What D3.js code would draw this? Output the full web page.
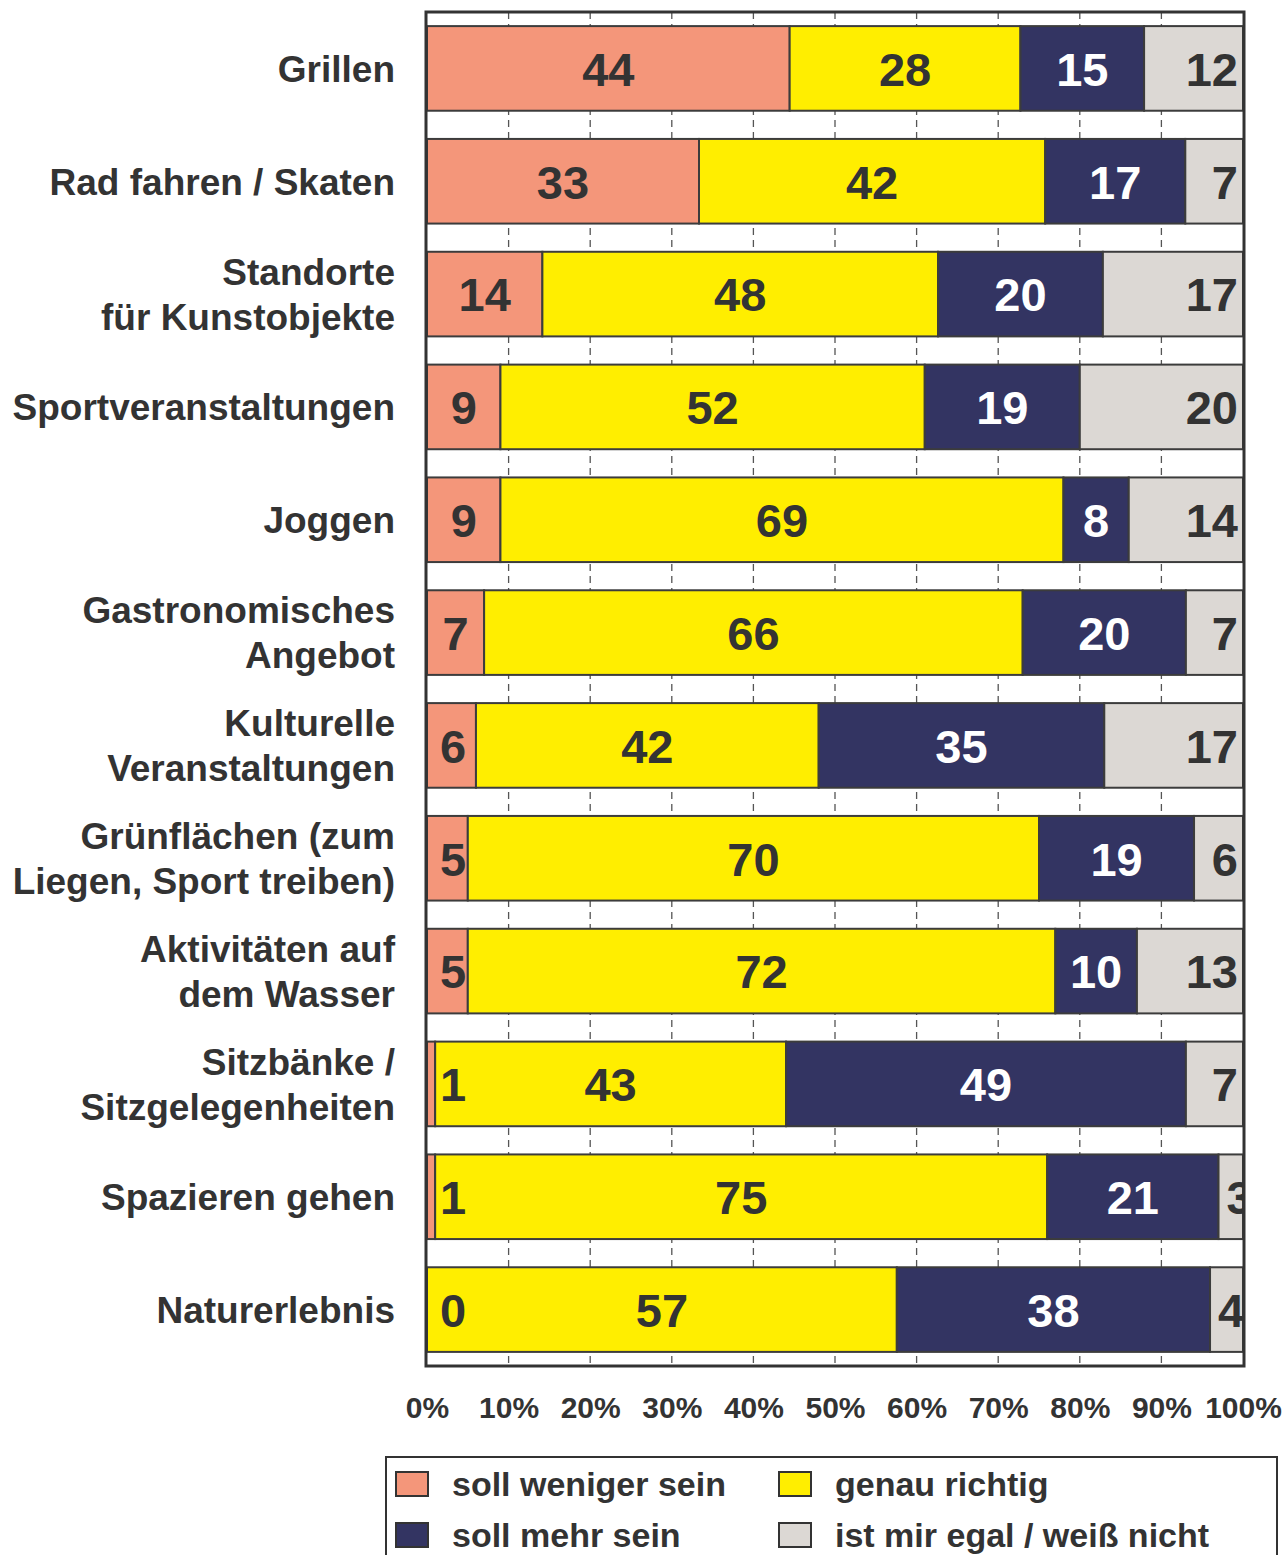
<!doctype html>
<html>
  <head>
    <meta charset="utf-8"/>
    <title>Freizeitangebote</title>
    <style>
      body, html {
        margin: 0;
        padding: 0;
        background: white;
        font-family: "Liberation Sans", Arial, sans-serif;
      }
      svg text {
        font-weight: bold;
        fill: #333333;
      }
    </style>
    <script src="https://d3js.org/d3.v7.min.js"></script>
  </head>
  <body>
    <svg width="1287" height="1555"></svg>
    <script>
      var categories = [
        "Grillen",
        "Rad fahren / Skaten",
        "Standorte\nfür Kunstobjekte",
        "Sportveranstaltungen",
        "Joggen",
        "Gastronomisches\nAngebot",
        "Kulturelle\nVeranstaltungen",
        "Grünflächen (zum\nLiegen, Sport treiben)",
        "Aktivitäten auf\ndem Wasser",
        "Sitzbänke /\nSitzgelegenheiten",
        "Spazieren gehen",
        "Naturerlebnis"
      ];
      var weniger = [44, 33, 14, 9, 9, 7, 6, 5, 5, 1, 1, 0];
      var richtig = [28, 42, 48, 52, 69, 66, 42, 70, 72, 43, 75, 57];
      var mehr    = [15, 17, 20, 19, 8, 20, 35, 19, 10, 49, 21, 38];
      var egal    = [12, 7, 17, 20, 14, 7, 17, 6, 13, 7, 3, 4];

      var seriesKeys = ["weniger", "richtig", "mehr", "egal"];
      var seriesNames = ["soll weniger sein", "genau richtig", "soll mehr sein", "ist mir egal / weiß nicht"];
      var colors = ["#f4967a", "#ffee00", "#333462", "#dcd8d4"];
      var labelColors = ["#333333", "#333333", "#ffffff", "#333333"];
      var ticks = [0, 0.1, 0.2, 0.3, 0.4, 0.5, 0.6, 0.7, 0.8, 0.9, 1];

      var rows = categories.map(function(c, i) {
        return {cat: c, weniger: weniger[i], richtig: richtig[i], mehr: mehr[i], egal: egal[i]};
      });

      var svg = d3.select("svg");
      var plotLeft = 427, plotRight = 1243, plotTop = 12, plotBottom = 1366;

      var x = d3.scaleLinear().domain([0, 1]).range([plotLeft, plotRight]);
      var y = d3.scaleBand().domain(categories).range([plotTop, plotBottom])
        .paddingInner(0.25).paddingOuter(0.125);

      var stack = d3.stack().keys(seriesKeys).offset(d3.stackOffsetExpand);
      var stacked = stack(rows);

      // dashed gridlines
      svg.append("g").selectAll("line")
        .data(ticks.slice(1, -1)).enter().append("line")
        .attr("x1", function(d) { return x(d); })
        .attr("x2", function(d) { return x(d); })
        .attr("y1", plotTop).attr("y2", plotBottom)
        .attr("stroke", "#555")
        .attr("stroke-width", 1.3)
        .attr("stroke-dasharray", "7,5");

      var layer = svg.append("g").selectAll("g")
        .data(stacked).enter().append("g")
        .attr("fill", function(d, i) { return colors[i]; });

      layer.selectAll("rect")
        .data(function(d) { return d; }).enter().append("rect")
        .attr("x", function(d) { return x(d[0]); })
        .attr("width", function(d) { return x(d[1]) - x(d[0]); })
        .attr("y", function(d) { return y(d.data.cat); })
        .attr("height", y.bandwidth())
        .attr("stroke", "#3c3c3c")
        .attr("stroke-width", 2);

      // clip for value labels so nothing runs past the frame
      svg.append("clipPath").attr("id", "plotClip")
        .append("rect")
        .attr("x", plotLeft).attr("y", plotTop)
        .attr("width", plotRight - plotLeft).attr("height", plotBottom - plotTop);

      // value labels
      var labels = svg.append("g").attr("clip-path", "url(#plotClip)");
      stacked.forEach(function(s, si) {
        labels.append("g").selectAll("text")
          .data(s).enter().append("text")
          .attr("x", function(d) {
            var mid = (x(d[0]) + x(d[1])) / 2;
            if (si === 0) return Math.max(mid, plotLeft + 26);
            if (si === 3) return Math.max(plotRight - 5, x(d[0]) + 34);
            return mid;
          })
          .attr("y", function(d) { return y(d.data.cat) + y.bandwidth() / 2; })
          .attr("dy", "0.37em")
          .attr("text-anchor", si === 3 ? "end" : "middle")
          .style("font-size", "47px")
          .style("fill", labelColors[si])
          .text(function(d) { return d.data[s.key]; });
      });

      // frame
      svg.append("rect")
        .attr("x", plotLeft - 1).attr("y", plotTop)
        .attr("width", plotRight - plotLeft + 2).attr("height", plotBottom - plotTop)
        .attr("fill", "none")
        .attr("stroke", "#333")
        .attr("stroke-width", 3);

      // category labels
      var catLabel = svg.append("g").selectAll("text")
        .data(categories).enter().append("text")
        .attr("text-anchor", "end")
        .style("font-size", "37px")
        .attr("y", function(d) { return y(d) + y.bandwidth() / 2; });

      catLabel.each(function(d) {
        var lines = d.split("\n");
        var t = d3.select(this);
        lines.forEach(function(l, i) {
          t.append("tspan")
            .attr("x", 395)
            .attr("dy", i === 0 ? (0.36 * 37 - (lines.length - 1) * 22.5) + "px" : "45px")
            .text(l);
        });
      });

      // x axis
      var axis = svg.append("g")
        .attr("transform", "translate(0," + plotBottom + ")")
        .call(d3.axisBottom(x).tickValues(ticks).tickFormat(d3.format(".0%")).tickSize(0).tickPadding(31));
      axis.select(".domain").remove();
      axis.selectAll("text")
        .style("font-size", "30px")
        .style("font-family", "Liberation Sans, Arial, sans-serif")
        .attr("fill", "#333");

      // legend
      var legend = svg.append("g");
      legend.append("rect")
        .attr("x", 386).attr("y", 1457)
        .attr("width", 891).attr("height", 120)
        .attr("fill", "white")
        .attr("stroke", "#333")
        .attr("stroke-width", 2);

      var legendPos = [[396, 1472], [779, 1472], [396, 1523], [779, 1523]];
      var legendOrder = [0, 1, 2, 3];
      var item = legend.selectAll("g.item")
        .data(legendOrder).enter().append("g")
        .attr("class", "item")
        .attr("transform", function(d, i) { return "translate(" + legendPos[i][0] + "," + legendPos[i][1] + ")"; });

      item.append("rect")
        .attr("width", 32).attr("height", 24)
        .attr("fill", function(d) { return colors[d]; })
        .attr("stroke", "#333")
        .attr("stroke-width", 2);

      item.append("text")
        .attr("x", 56).attr("y", 12)
        .attr("dy", "0.36em")
        .style("font-size", "34px")
        .text(function(d) { return seriesNames[d]; });
    </script>
  </body>
</html>
